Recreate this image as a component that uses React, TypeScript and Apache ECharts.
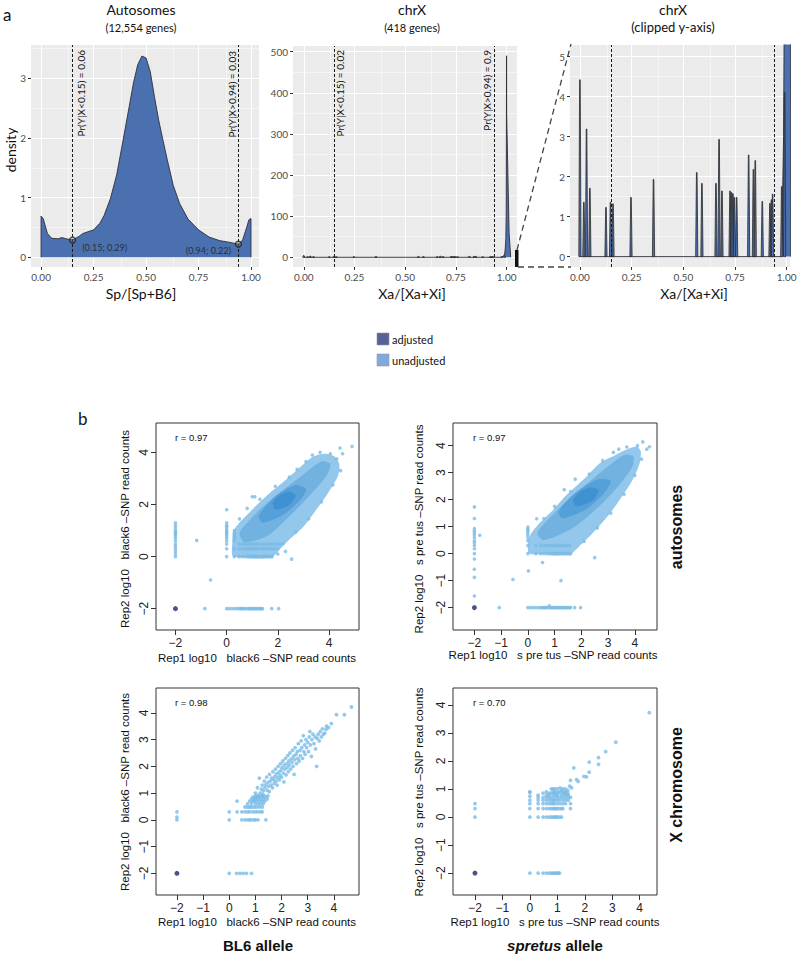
import React, { useEffect, useRef } from 'react';
import * as echarts from 'echarts';

type P = [number, number];

// ---------- Panel a: autosome density ----------
const autoX = [0, 0, 0.01, 0.03, 0.05, 0.08, 0.1, 0.12, 0.15, 0.18, 0.2, 0.25, 0.28, 0.3, 0.33, 0.36, 0.39, 0.42, 0.44, 0.46, 0.48, 0.5, 0.52, 0.54, 0.56, 0.58, 0.6, 0.63, 0.66, 0.7, 0.75, 0.8, 0.85, 0.9, 0.94, 0.96, 0.98, 0.99, 1.0, 1.0];
const autoDensity = [0, 0.69, 0.65, 0.4, 0.32, 0.31, 0.33, 0.31, 0.29, 0.35, 0.4, 0.46, 0.57, 0.7, 0.98, 1.38, 1.95, 2.53, 2.92, 3.22, 3.37, 3.34, 3.11, 2.69, 2.3, 1.97, 1.65, 1.2, 0.9, 0.64, 0.46, 0.34, 0.28, 0.25, 0.22, 0.29, 0.51, 0.63, 0.65, 0];
const autoMarkX = [0.15, 0.94];
const autoMarkY = [0.29, 0.22];
const autoMarkLabels = ['(0.15; 0.29)', '(0.94; 0.22)'];
const cutoffs = [0.15, 0.94];
const autoPrLabels = ['Pr(Y|X<0.15) = 0.06', 'Pr(Y|X>0.94) = 0.03'];
const chrXPrLabels = ['Pr(Y|X<0.15) = 0.02', 'Pr(Y|X>0.94) = 0.9'];

// ---------- Panel a: chrX density ----------
const chrXSpikeX = [0.0, 0.019, 0.032, 0.048, 0.126, 0.148, 0.16, 0.247, 0.356, 0.565, 0.59, 0.658, 0.673, 0.687, 0.726, 0.733, 0.74, 0.747, 0.758, 0.816, 0.839, 0.848, 0.882, 0.919, 0.926, 0.932, 0.976, 0.99];
const chrXSpikeH = [4.42, 1.36, 3.19, 1.71, 1.23, 1.36, 1.32, 1.48, 1.93, 2.1, 1.83, 1.83, 2.93, 1.64, 1.64, 1.6, 1.57, 1.48, 1.48, 2.54, 2.18, 2.4, 1.38, 1.33, 1.42, 1.56, 1.75, 4.1];
const chrXPeakX = [0, 0.975, 0.985, 0.99, 0.993, 0.996, 0.998, 0.9995, 1.0, 1.012, 1.02];
const chrXPeakY = [0, 0, 3, 8, 20, 45, 110, 490, 350, 60, 0];

const fracTicks = [0, 0.25, 0.5, 0.75, 1];
const fracMinor = [0.125, 0.375, 0.625, 0.875];
const autoYTicks = [0, 1, 2, 3];
const autoYMinor = [0.5, 1.5, 2.5, 3.5];
const chrXYTicks = [0, 100, 200, 300, 400, 500];
const chrXYMinor = [50, 150, 250, 350, 450];
const clipYTicks = [0, 1, 2, 3, 4, 5];
const clipYMinor = [0.5, 1.5, 2.5, 3.5, 4.5];

const legendLabels = ['adjusted', 'unadjusted'];

// ---------- Panel b: replicate scatter plots ----------
const rTicks2 = [-2, 0, 2, 4];
const rTicks1 = [-2, -1, 0, 1, 2, 3, 4];
const rLabels = ['r = 0.97', 'r = 0.97', 'r = 0.98', 'r = 0.70'];
const zeroPoint: P[] = [[-2, -2]];

// BL6 autosomes
const bl6AutoRows: [number, number[]][] = [
  [0, [0, 0.3, 0.48, 0.6, 0.7, 0.78, 0.85, 0.9, 0.95, 1.0, 1.04, 1.08, 1.11, 1.15, 1.18, 1.2, 1.26, 1.3, 1.34, 1.38, 1.41, 1.45, 1.5, 1.56, 1.6, 1.66, 1.72, 1.78]],
  [0.3, [0.3, 0.48, 0.6, 0.7, 0.78, 0.85, 0.9, 0.95, 1.0, 1.08, 1.15, 1.2, 1.3, 1.38, 1.45, 1.52, 1.6, 1.7, 1.8, 1.9, 2.0]],
  [0.48, [0.48, 0.6, 0.7, 0.78, 0.85, 0.9, 1.0, 1.08, 1.15, 1.2, 1.3, 1.4, 1.5, 1.6, 1.7, 1.8, 1.9, 2.0, 2.1]],
  [-2, [-0.85, 0, 0.1, 0.2, 0.3, 0.4, 0.48, 0.55, 0.6, 0.65, 0.7, 0.78, 0.85, 0.9, 0.95, 1.0, 1.05, 1.1, 1.15, 1.2, 1.26, 1.3, 1.36, 1.4, 1.76, 2.03]],
];
const bl6AutoCols: [number, number[]][] = [
  [-2, [0, 0.1, 0.2, 0.3, 0.4, 0.48, 0.6, 0.7, 0.78, 0.85, 0.9, 0.95, 1.0, 1.1, 1.2, 1.3]],
  [0, [0.3, 0.48, 0.6, 0.7, 0.78, 0.85, 0.9, 0.95, 1.0, 1.08, 1.15, 1.2, 1.3, 1.8]],
  [0.3, [0.6, 0.7, 0.78, 0.85, 0.9, 1.0]],
];
const bl6AutoOther: P[] = [[-1.17, 0.62], [-0.63, -0.9], [2.54, -0.1], [1.0, 2.3], [1.1, 2.3], [4.43, 4.17], [4.9, 4.23], [4.53, 3.95], [0.5, 1.45], [0.8, 1.85], [1.3, 2.2], [1.9, 2.7], [2.45, 3.05], [2.75, 3.35], [3.1, 3.65], [3.35, 3.9], [3.65, 4.0], [4.05, 3.95], [4.3, 3.75], [2.2, 0.5], [2.7, 0.95], [3.2, 1.45], [3.7, 2.1], [4.15, 2.75], [4.45, 3.3], [2.3, 0.2], [2.0, 0.1]];
const bl6AutoOuter: P[] = [[0.25, 0.0], [1.0, 0.0], [1.8, 0.0], [2.1, 0.3], [2.5, 0.7], [3.0, 1.15], [3.5, 1.8], [4.0, 2.5], [4.35, 3.1], [4.4, 3.55], [4.2, 3.85], [3.85, 3.95], [3.4, 3.85], [3.0, 3.55], [2.6, 3.2], [2.2, 2.85], [1.7, 2.45], [1.2, 2.0], [0.85, 1.65], [0.5, 1.3], [0.28, 1.0], [0.22, 0.5]];
const bl6AutoMid: P[] = [[0.7, 0.55], [1.6, 0.8], [2.4, 1.5], [3.2, 2.3], [3.9, 3.1], [4.05, 3.55], [3.7, 3.65], [3.0, 3.15], [2.2, 2.55], [1.4, 1.9], [0.8, 1.3], [0.5, 0.9]];
const bl6AutoCore: P[] = [[1.4, 1.3], [2.2, 1.6], [2.9, 2.2], [3.1, 2.6], [2.7, 2.75], [2.0, 2.4], [1.5, 1.9], [1.25, 1.55]];
const bl6AutoCenter: P[] = [[1.9, 1.8], [2.4, 1.95], [2.7, 2.35], [2.4, 2.5], [2.0, 2.3], [1.8, 2.05]];

// spretus autosomes
const sprAutoRows: [number, number[]][] = [
  [0, [0, 0.3, 0.48, 0.6, 0.7, 0.78, 0.85, 0.9, 0.95, 1.0, 1.04, 1.08, 1.11, 1.15, 1.2, 1.26, 1.3, 1.36, 1.41, 1.45, 1.5, 1.56, 1.6]],
  [0.3, [0, 0.3, 0.48, 0.6, 0.7, 0.78, 0.85, 0.9, 1.0, 1.08, 1.15, 1.2, 1.3, 1.38, 1.45, 1.52, 1.58]],
  [-2, [-1.07, 0, 0.1, 0.2, 0.3, 0.4, 0.48, 0.55, 0.6, 0.65, 0.7, 0.78, 0.85, 0.9, 0.95, 1.0, 1.05, 1.1, 1.15, 1.2, 1.26, 1.3, 1.36, 1.4, 1.45, 1.5, 1.56, 1.6, 1.75, 1.97]],
];
const sprAutoCols: [number, number[]][] = [
  [-2, [1.73, 1.3, 0.93, 0.85, 0.78, 0.7, 0.6, 0.48, 0.4, 0.3, 0.18, 0.0, -0.2, -0.58, -0.88, -1.57]],
  [0, [0.48, 0.6, 0.7, 0.78, 0.85, 0.9, 0.98]],
];
const sprAutoOther: P[] = [[-1.8, 0.68], [0.8, -1.93], [-0.56, -0.96], [0.02, -0.64], [0.55, -0.33], [1.24, -1.0], [2.5, -0.15], [1.77, 2.76], [1.36, 2.37], [0.33, 1.29], [4.3, 4.14], [4.55, 3.96], [4.45, 3.87], [3.4, 3.87], [0.6, 1.3], [1.0, 1.75], [1.6, 2.3], [2.3, 2.95], [2.8, 3.45], [3.2, 3.75], [3.7, 3.95], [4.1, 4.0], [2.1, 0.45], [2.6, 0.95], [3.1, 1.5], [3.6, 2.2], [4.0, 2.9], [4.25, 3.5]];
const sprAutoOuter: P[] = [[0.05, 0.0], [1.0, 0.0], [1.6, 0.0], [1.9, 0.25], [2.43, 0.76], [3.0, 1.4], [3.43, 1.99], [3.9, 2.7], [4.18, 3.35], [4.22, 3.8], [4.06, 3.97], [3.6, 3.82], [3.31, 3.67], [2.69, 3.35], [2.2, 2.86], [1.45, 2.18], [0.95, 1.63], [0.45, 1.14], [0.14, 0.77], [0.02, 0.5]];
const sprAutoMid: P[] = [[0.6, 0.5], [1.6, 0.9], [2.5, 1.6], [3.3, 2.4], [3.9, 3.2], [3.95, 3.6], [3.6, 3.65], [2.9, 3.15], [2.0, 2.4], [1.2, 1.7], [0.6, 1.1], [0.35, 0.75]];
const sprAutoCore: P[] = [[1.3, 1.3], [2.2, 1.65], [2.9, 2.3], [3.1, 2.7], [2.6, 2.75], [1.9, 2.35], [1.4, 1.9], [1.15, 1.55]];
const sprAutoCenter: P[] = [[1.8, 1.75], [2.4, 1.95], [2.65, 2.35], [2.3, 2.45], [1.9, 2.25], [1.7, 2.0]];

// BL6 X chromosome
const bl6XRows: [number, number[]][] = [
  [0, [0, 0.48, 0.6, 0.7, 0.78, 0.85, 0.95, 1.0, 1.1, 1.4]],
  [0.3, [0, 0.3, 0.48, 0.6, 0.7, 0.78, 0.9, 1.0, 1.08, 1.18, 1.26]],
  [0.48, [0.6, 0.7, 0.78, 0.85, 0.95, 1.04, 1.15, 1.26]],
  [0.6, [0.7, 0.85, 1.0, 1.11, 1.2, 1.3]],
  [0.7, [0.3, 0.78, 0.9, 1.04, 1.15, 1.26, 1.36]],
  [0.78, [0.85, 0.95, 1.08, 1.2, 1.32, 1.45]],
  [0.85, [0.9, 1.0, 1.15, 1.28, 1.4]],
  [0.9, [1.0, 1.1, 1.23, 1.34, 1.48]],
  [-2, [0, 0.28, 0.41, 0.53, 0.66, 0.85]],
];
const bl6XCols: [number, number[]][] = [[-2, [0, 0.1, 0.3]]];
const bl6XOther: P[] = [[0.95, 0.7], [1.0, 1.0], [1.04, 0.78], [1.08, 1.2], [1.11, 0.9], [1.15, 1.56], [1.18, 1.0], [1.23, 1.15], [1.26, 1.3], [1.28, 0.95], [1.3, 1.08], [1.34, 1.45], [1.36, 1.2], [1.4, 1.32], [1.43, 1.6], [1.45, 1.1], [1.48, 1.4], [1.5, 1.25], [1.53, 1.06], [1.54, 1.7], [1.57, 1.45], [1.6, 1.3], [1.62, 1.56], [1.65, 1.2], [1.67, 1.8], [1.7, 1.5], [1.72, 1.36], [1.74, 1.62], [1.77, 1.9], [1.79, 1.45], [1.8, 1.72], [1.83, 1.3], [1.85, 1.58], [1.87, 2.0], [1.9, 1.78], [1.92, 1.5], [1.94, 1.66], [1.96, 2.1], [1.98, 1.86], [2.0, 1.6], [2.02, 1.95], [2.05, 2.2], [2.07, 1.75], [2.09, 1.42], [2.1, 2.05], [2.13, 1.9], [2.15, 2.3], [2.17, 1.68], [2.2, 2.1], [2.22, 1.96], [2.24, 2.4], [2.26, 1.8], [2.28, 2.2], [2.3, 2.05], [2.32, 2.5], [2.35, 1.9], [2.37, 2.28], [2.4, 2.15], [2.42, 2.6], [2.44, 2.0], [2.46, 2.38], [2.48, 1.7], [2.5, 2.25], [2.52, 2.7], [2.55, 2.45], [2.57, 2.1], [2.6, 2.55], [2.62, 2.3], [2.64, 2.85], [2.67, 2.2], [2.7, 2.6], [2.72, 2.4], [2.75, 2.95], [2.77, 2.7], [2.8, 2.3], [2.83, 3.15], [2.85, 2.55], [2.88, 2.8], [2.9, 2.45], [2.93, 3.0], [2.96, 2.7], [3.0, 2.9], [3.03, 2.55], [3.06, 3.1], [3.08, 3.3], [3.1, 2.8], [3.14, 2.37], [3.16, 3.0], [3.2, 3.2], [3.24, 2.85], [3.28, 3.1], [3.3, 2.65], [3.34, 2.0], [3.36, 3.05], [3.4, 3.2], [3.44, 2.95], [3.48, 3.3], [3.52, 3.1], [3.56, 3.4], [3.6, 3.2], [3.65, 3.24], [3.7, 3.38], [3.72, 3.5], [3.8, 3.45], [3.9, 3.6], [4.1, 3.93], [4.4, 3.93], [4.67, 4.22]];

// spretus X chromosome
const sprXRows: [number, number[]][] = [
  [0, [0, 0.3, 0.48, 0.6, 0.7, 0.78, 0.85, 0.9, 0.95, 1.0, 1.08, 1.15]],
  [0.3, [0, 0.3, 0.48, 0.6, 0.7, 0.78, 0.85, 0.9, 0.95, 1.0, 1.08, 1.15, 1.2, 1.48]],
  [0.48, [0, 0.3, 0.48, 0.6, 0.7, 0.78, 0.85, 0.9, 1.0, 1.1, 1.2, 1.3, 1.48]],
  [0.6, [0.3, 0.48, 0.6, 0.7, 0.78, 0.85, 0.9, 1.0, 1.08, 1.2, 1.3, 1.4]],
  [0.7, [0.3, 0.48, 0.6, 0.7, 0.78, 0.9, 1.0, 1.1, 1.2, 1.3, 1.4, 1.48]],
  [0.78, [0.3, 0.6, 0.7, 0.85, 0.95, 1.0, 1.15, 1.26, 1.34, 1.4]],
  [0.85, [0.48, 0.7, 0.78, 0.9, 1.04, 1.2, 1.3, 1.38]],
  [0.9, [0, 0.6, 0.85, 0.9, 1.0, 1.11, 1.23, 1.32]],
  [1.0, [0.78, 0.9, 1.0, 1.2, 1.3]],
  [-2, [0, 0.3, 0.48, 0.6, 0.7, 0.78, 0.85, 0.9, 0.95, 1.0, 1.04, 1.08]],
];
const sprXCols: [number, number[]][] = [[-2, [0, 0.3, 0.48]], [0, [0.6, 0.74, 0.88]]];
const sprXOther: P[] = [[1.52, 1.04], [1.48, 1.31], [1.7, 1.33], [1.76, 1.27], [1.6, 1.75], [1.97, 1.45], [2.06, 1.43], [2.16, 1.6], [2.16, 1.96], [2.5, 2.12], [2.5, 1.88], [2.76, 2.33], [3.13, 2.67], [4.35, 3.72], [0.85, 1.0], [1.1, 1.04], [1.15, 0.95], [1.38, 0.95], [1.45, 1.1]];

// ---------- helpers ----------
const FONT_A = 'Lato, "Open Sans", sans-serif';
const FONT_B = '"Liberation Sans", Arial, sans-serif';
const fromRows = (rows: [number, number[]][]): P[] => rows.flatMap(([y, xs]) => xs.map((x) => [x, y] as P));
const fromCols = (cols: [number, number[]][]): P[] => cols.flatMap(([x, ys]) => ys.map((y) => [x, y] as P));
const zip = (xs: number[], ys: number[]): P[] => xs.map((x, i) => [x, ys[i]] as P);
const minus = (v: number) => (v < 0 ? '\u2212' + String(-v) : String(v));

function ggAxis(gi: number, min: number, max: number, ticks: number[], fmt: (v: number) => string) {
  return {
    type: 'value', gridIndex: gi, min, max,
    axisLine: { show: false, onZero: false }, splitLine: { show: false },
    axisTick: { show: true, length: 3, customValues: ticks, lineStyle: { color: '#333', width: 1 } },
    axisLabel: { show: true, customValues: ticks, formatter: fmt, color: '#4D4D4D', fontSize: 10, fontFamily: FONT_A, margin: 5 },
  };
}
function rAxis(gi: number, min: number, max: number, ticks: number[], isY: boolean) {
  return {
    type: 'value', gridIndex: gi, min, max,
    axisLine: { show: false, onZero: false }, splitLine: { show: false },
    axisTick: { show: true, inside: false, length: 5, customValues: ticks, lineStyle: { color: '#333', width: 1 } },
    axisLabel: { show: true, customValues: ticks, formatter: minus, color: '#222', fontSize: 12, fontFamily: FONT_B, margin: isY ? 6 : 7, rotate: isY ? 90 : 0 },
  };
}
function gridLines(gi: number, xMaj: number[], xMin: number[], yMaj: number[], yMin: number[]) {
  const maj = { color: '#FFFFFF', width: 1.1, type: 'solid' };
  const mn = { color: '#FFFFFF', width: 0.5, type: 'solid' };
  return {
    type: 'line', xAxisIndex: gi, yAxisIndex: gi, data: [], z: 1, silent: true,
    markLine: {
      silent: true, symbol: ['none', 'none'], label: { show: false }, z: 1, animation: false,
      data: [
        ...xMin.map((v) => ({ xAxis: v, lineStyle: mn })),
        ...yMin.map((v) => ({ yAxis: v, lineStyle: mn })),
        ...xMaj.map((v) => ({ xAxis: v, lineStyle: maj })),
        ...yMaj.map((v) => ({ yAxis: v, lineStyle: maj })),
      ],
    },
  };
}
function cutoffLines(gi: number) {
  return {
    type: 'line', xAxisIndex: gi, yAxisIndex: gi, data: [], z: 6, silent: true,
    markLine: {
      silent: true, symbol: ['none', 'none'], label: { show: false }, z: 6, animation: false,
      lineStyle: { color: '#1a1a1a', type: [3, 2], width: 1 },
      data: cutoffs.map((v) => ({ xAxis: v })),
    },
  };
}
function spikeSeries(gi: number) {
  return {
    type: 'custom', xAxisIndex: gi, yAxisIndex: gi, z: 3, clip: true, silent: true,
    data: zip(chrXSpikeX, chrXSpikeH),
    renderItem: (_p: any, api: any) => {
      const x = api.value(0), h = api.value(1);
      const t = api.coord([x, h]);
      const b = api.coord([x, 0]);
      return {
        type: 'polygon',
        shape: { points: [[b[0] - 1.1, b[1]], [t[0] - 0.3, t[1]], [t[0] + 0.3, t[1]], [b[0] + 1.1, b[1]]] },
        style: { fill: '#4B70B0', stroke: '#2a2a2a', lineWidth: 0.8 },
      };
    },
  };
}
function peakSeries(gi: number) {
  return {
    type: 'line', xAxisIndex: gi, yAxisIndex: gi, z: 2, symbol: 'none', clip: true, silent: true,
    data: zip(chrXPeakX, chrXPeakY),
    lineStyle: { color: '#2E2E38', width: 0.9 },
    areaStyle: { color: '#4B70B0', opacity: 1 },
  };
}
function cloudSeries(gi: number, pts: P[], color: string, z: number) {
  return {
    type: 'custom', xAxisIndex: gi, yAxisIndex: gi, z, clip: true, silent: true,
    data: [pts[0]],
    renderItem: (_p: any, api: any) => ({
      type: 'polygon',
      shape: { points: pts.map((p) => api.coord(p)), smooth: 0.25 },
      style: { fill: color },
    }),
  };
}

const cloudColors = ['#93C7EC', '#72B2E1', '#56A0DA', '#3F91D2'];

const scatterPanels = [
  { gi: 3, pts: [...fromRows(bl6AutoRows), ...fromCols(bl6AutoCols), ...bl6AutoOther], clouds: [bl6AutoOuter, bl6AutoMid, bl6AutoCore, bl6AutoCenter], size: 3.6 },
  { gi: 4, pts: [...fromRows(sprAutoRows), ...fromCols(sprAutoCols), ...sprAutoOther], clouds: [sprAutoOuter, sprAutoMid, sprAutoCore, sprAutoCenter], size: 3.6 },
  { gi: 5, pts: [...fromRows(bl6XRows), ...fromCols(bl6XCols), ...bl6XOther], clouds: [], size: 3.8 },
  { gi: 6, pts: [...fromRows(sprXRows), ...fromCols(sprXCols), ...sprXOther], clouds: [], size: 3.8 },
];

function txt(text: string, x: number, y: number, o: any = {}) {
  const { rotation, ...style } = o;
  return {
    type: 'text', x, y, z: 100, rotation: rotation || 0, silent: true,
    style: { text, fill: '#111', fontSize: 11, fontFamily: FONT_A, align: 'center', verticalAlign: 'middle', ...style },
  };
}

export default function App() {
  const ref = useRef<HTMLDivElement>(null);
  useEffect(() => {
    if (!ref.current) return;
    const chart = echarts.init(ref.current, undefined, { renderer: 'svg' });
    const ggGrid = (left: number, top: number, width: number, height: number) => ({ left, top, width, height, show: true, backgroundColor: '#EBEBEB', borderWidth: 0, outerBoundsMode: 'none', containLabel: false });
    const rGrid = (left: number, top: number, width: number, height: number) => ({ left, top, width, height, show: true, backgroundColor: 'transparent', borderColor: '#333', borderWidth: 1, outerBoundsMode: 'none', containLabel: false });
    const f2 = (v: number) => v.toFixed(2);
    const f0 = (v: number) => String(v);

    const series: any[] = [
      gridLines(0, fracTicks, fracMinor, autoYTicks, autoYMinor),
      {
        type: 'line', xAxisIndex: 0, yAxisIndex: 0, z: 2, symbol: 'none', silent: true,
        data: zip(autoX, autoDensity),
        lineStyle: { color: '#2E2E38', width: 0.9 },
        areaStyle: { color: '#4B70B0', opacity: 1 },
      },
      cutoffLines(0),
      {
        type: 'scatter', xAxisIndex: 0, yAxisIndex: 0, z: 7, symbol: 'circle', symbolSize: 6, silent: true,
        itemStyle: { color: 'rgba(120,120,120,0.5)', borderColor: '#1a1a1a', borderWidth: 1.2 },
        data: autoMarkX.map((x, i) => ({
          value: [x, autoMarkY[i]],
          label: {
            show: true, formatter: autoMarkLabels[i], position: i === 0 ? 'right' : 'left', distance: 6,
            offset: i === 0 ? [0, 7] : [2, 6], fontSize: 9, fontFamily: FONT_A, color: '#1a1a1a',
          },
        })),
      },
      gridLines(1, fracTicks, fracMinor, chrXYTicks, chrXYMinor),
      peakSeries(1),
      spikeSeries(1),
      cutoffLines(1),
      gridLines(2, fracTicks, fracMinor, clipYTicks, clipYMinor),
      peakSeries(2),
      spikeSeries(2),
      cutoffLines(2),
    ];
    scatterPanels.forEach((sp) => {
      sp.clouds.forEach((c, k) => series.push(cloudSeries(sp.gi, c, cloudColors[k], 2 + k)));
      series.push({
        type: 'scatter', xAxisIndex: sp.gi, yAxisIndex: sp.gi, z: 7, symbol: 'circle', symbolSize: sp.size, silent: true,
        itemStyle: { color: '#7BBBE6' }, data: sp.pts,
      });
      series.push({
        type: 'scatter', xAxisIndex: sp.gi, yAxisIndex: sp.gi, z: 8, symbol: 'circle', symbolSize: 5, silent: true,
        itemStyle: { color: '#1B2A6B' }, data: zeroPoint,
      });
    });

    const rot = Math.PI / 2;
    const graphic: any[] = [
      txt('a', 3, 14, { fontSize: 17, align: 'left' }),
      txt('Autosomes', 141, 9, { fontSize: 14 }),
      txt('(12,554 genes)', 141, 27, { fontSize: 11 }),
      txt('chrX', 412, 9, { fontSize: 14 }),
      txt('(418 genes)', 412, 27, { fontSize: 11 }),
      txt('chrX', 673, 9, { fontSize: 14 }),
      txt('(clipped y-axis)', 673, 27, { fontSize: 13 }),
      txt('density', 10, 150, { fontSize: 14, rotation: rot }),
      txt('Sp/[Sp+B6]', 141, 293, { fontSize: 14 }),
      txt('Xa/[Xa+Xi]', 412, 293, { fontSize: 14 }),
      txt('Xa/[Xa+Xi]', 694, 293, { fontSize: 14 }),
      txt(autoPrLabels[0], 80.5, 50, { fontSize: 10, rotation: rot, align: 'right' }),
      txt(autoPrLabels[1], 232, 51, { fontSize: 10, rotation: rot, align: 'right' }),
      txt(chrXPrLabels[0], 340, 50, { fontSize: 10, rotation: rot, align: 'right' }),
      txt(chrXPrLabels[1], 487, 50, { fontSize: 10, rotation: rot, align: 'right' }),
      { type: 'rect', z: 100, silent: true, shape: { x: 515, y: 250, width: 3.5, height: 17 }, style: { fill: '#111' } },
      { type: 'line', z: 100, silent: true, shape: { x1: 517, y1: 250, x2: 571, y2: 44 }, style: { stroke: '#444', lineWidth: 1.3, lineDash: [6, 4] } },
      { type: 'line', z: 100, silent: true, shape: { x1: 518, y1: 267, x2: 571, y2: 267 }, style: { stroke: '#444', lineWidth: 1.3, lineDash: [6, 4] } },
      { type: 'rect', z: 100, silent: true, shape: { x: 377, y: 333, width: 12, height: 12 }, style: { fill: '#56629A', stroke: '#999', lineWidth: 0.6 } },
      { type: 'rect', z: 100, silent: true, shape: { x: 377, y: 354, width: 12, height: 12 }, style: { fill: '#80AADF', stroke: '#999', lineWidth: 0.6 } },
      txt(legendLabels[0], 392, 339, { fontSize: 11, align: 'left' }),
      txt(legendLabels[1], 392, 360, { fontSize: 11, align: 'left' }),
      txt('b', 78, 418, { fontSize: 17, align: 'left' }),
      txt(rLabels[0], 175, 437, { fontSize: 9.5, align: 'left', fontFamily: FONT_B }),
      txt(rLabels[1], 473, 437, { fontSize: 9.5, align: 'left', fontFamily: FONT_B }),
      txt(rLabels[2], 175, 702, { fontSize: 9.5, align: 'left', fontFamily: FONT_B }),
      txt(rLabels[3], 473, 702, { fontSize: 9.5, align: 'left', fontFamily: FONT_B }),
      txt('Rep1 log10   black6 \u2013SNP read counts', 257, 658, { fontSize: 11.5, fontFamily: FONT_B }),
      txt('Rep1 log10   s pre tus \u2013SNP read counts', 553, 655, { fontSize: 11.5, fontFamily: FONT_B }),
      txt('Rep1 log10   black6 \u2013SNP read counts', 257, 922, { fontSize: 11.5, fontFamily: FONT_B }),
      txt('Rep1 log10   s pre tus \u2013SNP read counts', 555, 922, { fontSize: 11.5, fontFamily: FONT_B }),
      txt('Rep2 log10   black6 \u2013SNP read counts', 125, 529, { fontSize: 11.5, fontFamily: FONT_B, rotation: rot }),
      txt('Rep2 log10   s pre tus \u2013SNP read counts', 419, 529, { fontSize: 11.5, fontFamily: FONT_B, rotation: rot }),
      txt('Rep2 log10   black6 \u2013SNP read counts', 125, 792, { fontSize: 11.5, fontFamily: FONT_B, rotation: rot }),
      txt('Rep2 log10   s pre tus \u2013SNP read counts', 419, 792, { fontSize: 11.5, fontFamily: FONT_B, rotation: rot }),
      txt('autosomes', 676, 527, { fontSize: 16, fontWeight: 'bold', fontFamily: FONT_B, rotation: rot }),
      txt('X chromosome', 676, 785, { fontSize: 16, fontWeight: 'bold', fontFamily: FONT_B, rotation: rot }),
      txt('BL6 allele', 258, 945, { fontSize: 15, fontWeight: 'bold', fontFamily: FONT_B }),
      {
        type: 'text', x: 555, y: 945, z: 100, silent: true,
        style: {
          text: '{i|spretus} allele', fill: '#111', fontSize: 15, fontWeight: 'bold', fontFamily: FONT_B, align: 'center', verticalAlign: 'middle',
          rich: { i: { fontStyle: 'italic', fontWeight: 'bold', fontSize: 15, fontFamily: FONT_B, fill: '#111' } },
        },
      },
    ];

    chart.setOption({
      animation: false,
      textStyle: { fontFamily: FONT_A },
      grid: [
        ggGrid(31, 45, 228, 222),
        ggGrid(293, 46, 224, 221),
        ggGrid(570, 45, 220, 222),
        rGrid(156, 423, 203, 207),
        rGrid(453, 423, 204, 207),
        rGrid(156, 688, 203, 207),
        rGrid(453, 688, 204, 207),
      ],
      xAxis: [
        ggAxis(0, -0.048, 1.038, fracTicks, f2),
        ggAxis(1, -0.053, 1.051, fracTicks, f2),
        ggAxis(2, -0.048, 1.016, fracTicks, f2),
        rAxis(3, -2.76, 5.17, rTicks2, false),
        rAxis(4, -2.8, 4.83, rTicks1, false),
        rAxis(5, -2.8, 4.96, rTicks1, false),
        rAxis(6, -2.8, 4.63, rTicks1, false),
      ],
      yAxis: [
        ggAxis(0, -0.162, 3.556, autoYTicks, f0),
        ggAxis(1, -23.6, 513.8, chrXYTicks, f0),
        ggAxis(2, -0.26, 5.29, clipYTicks, f0),
        rAxis(3, -2.82, 5.13, rTicks2, true),
        rAxis(4, -2.83, 4.84, rTicks1, true),
        rAxis(5, -2.81, 4.93, rTicks1, true),
        rAxis(6, -2.78, 4.6, rTicks1, true),
      ],
      series,
      graphic,
    });
    return () => chart.dispose();
  }, []);
  return <div ref={ref} style={{ position: 'absolute', left: 0, top: 0, width: 800, height: 960, background: '#fff' }} />;
}
